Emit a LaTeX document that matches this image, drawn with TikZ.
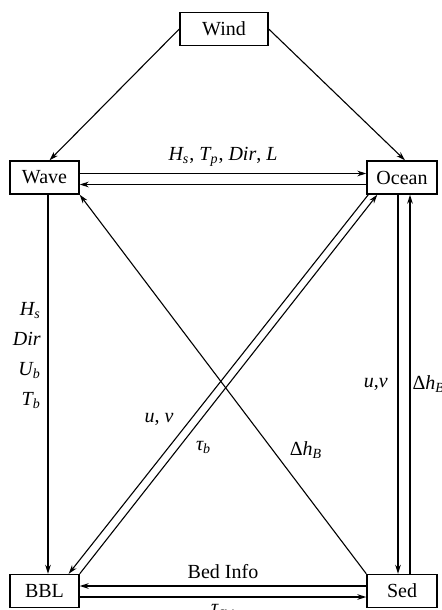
\documentclass[tikz,border=0pt]{standalone}
\usepackage{fontspec}
\setmainfont{Liberation Serif}
\usetikzlibrary{arrows.meta}
\newcommand{\qty}[2]{\textit{#1\textsubscript{#2}}}
\begin{document}
\begin{tikzpicture}[x=0.5pt,y=-0.5pt,font=\fontsize{10}{11}\selectfont,line width=0.55pt,
  >={Stealth[length=4.5pt,width=2.8pt]},
  box/.style={draw, line width=0.7pt, minimum height=16.5pt, inner sep=1pt}]
\useasboundingbox (0,0) rectangle (441,610);
\clip (0,0) rectangle (441,610);
\node[box, minimum width=44pt] (wind) at (224,29) {Wind};
\node[box, minimum width=34.5pt] (wave) at (44.5,177.5) {Wave};
\node[box, minimum width=35pt] (ocean) at (402,177.5) {Ocean};
\node[box, minimum width=34.5pt] (bbl) at (44.5,591) {BBL};
\node[box, minimum width=35pt] (sed) at (402,591) {Sed};
\draw[->] (wind.west) -- ([xshift=2.5pt]wave.north);
\draw[->] (wind.east) -- ([xshift=1.5pt]ocean.north);
\draw[->] ([yshift=2pt]wave.east) -- node[above] {\qty{H}{s}, \qty{T}{p}, \textit{Dir}, \textit{L}} ([yshift=2pt]ocean.west);
\draw[->] ([yshift=-3.5pt]ocean.west) -- ([yshift=-3.5pt]wave.east);
\draw[->] ([xshift=1.75pt]wave.south) -- node[pos=0.425, left, align=right] {\qty{H}{s}\\[4pt]\textit{Dir}\\[4pt]\qty{U}{b}\\[4pt]\qty{T}{b}} ([xshift=1.75pt]bbl.north);
\draw[->] (sed.north west) -- node[pos=0.327, right=5pt] {Δ\qty{h}{B}} (wave.south east);
\draw[->] ([xshift=1pt]ocean.south west) -- node[pos=0.593, left=5pt] {\textit{u}, \textit{v}} ([xshift=-5.5pt]bbl.north east);
\draw[->] (bbl.north east) -- node[pos=0.333, right=5pt] {\qty{τ}{b}} ([xshift=5.5pt]ocean.south west);
\draw[->] ([xshift=-2pt]ocean.south) -- node[left=1.5pt] {\textit{u},\textit{v}} ([xshift=-2pt]sed.north);
\draw[->] ([xshift=4pt]sed.north) -- node[right, inner sep=1pt] {Δ\qty{h}{B}} ([xshift=4pt]ocean.south);
\draw[->] ([yshift=2.5pt]sed.west) -- node[above] {Bed Info} ([yshift=2.5pt]bbl.east);
\draw[->] ([yshift=-3pt]bbl.east) -- node[below] {\qty{τ}{cw}} ([yshift=-3pt]sed.west);
\end{tikzpicture}
\end{document}
